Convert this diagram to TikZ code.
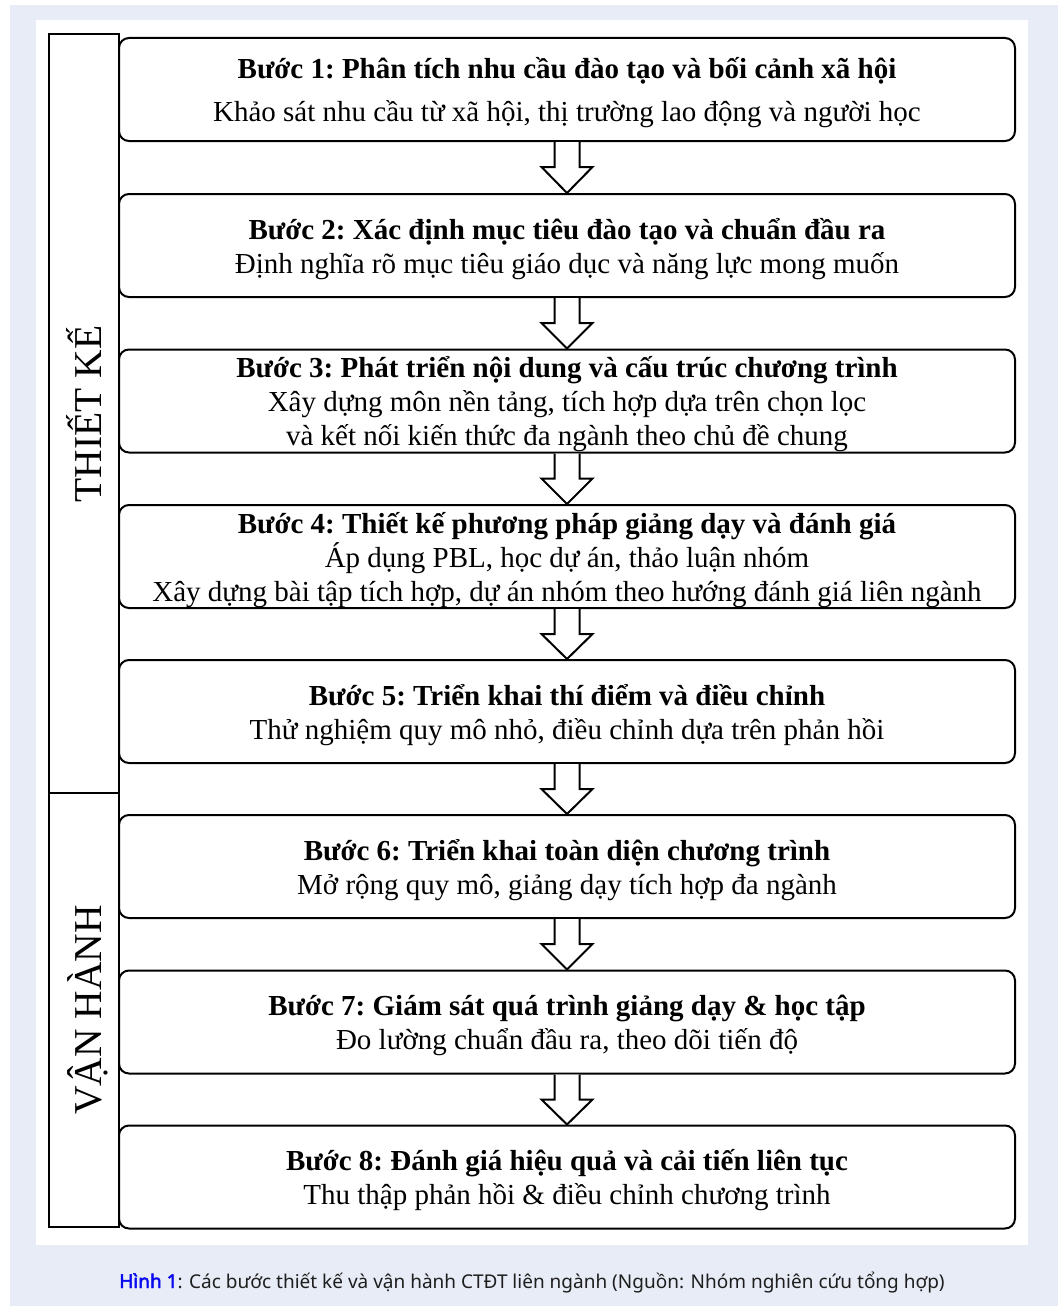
\documentclass[tikz,border=0pt]{standalone}
\usepackage{fontspec}
\setmainfont{Liberation Serif}
\newfontfamily\capfont{Noto Sans}
\newfontfamily\capboldfont[FakeBold=2.5]{Noto Sans}
\usetikzlibrary{calc}
\definecolor{pagebg}{HTML}{E7ECF6}
\definecolor{capblue}{HTML}{0A0AEE}
\definecolor{captext}{HTML}{1E1E1E}
\tikzset{
  stepbox/.style={draw, line width=2pt, rounded corners=10pt, fill=white,
    minimum width=896pt, minimum height=103pt, align=center, inner sep=0pt,
    font=\fontsize{29}{34}\selectfont\frenchspacing, text depth=0pt},
  phasebox/.style={draw, line width=2pt},
  phaselabel/.style={rotate=90, font=\fontsize{39.5}{44}\selectfont, inner sep=0pt, anchor=base},
  blockarrow/.style={draw, line width=2pt, fill=white, line join=miter},
}
\newcommand{\flowarrow}[2]{%
  \draw[blockarrow] ($(#1.south)+(-12.5,0)$) -- ($(#1.south)+(-12.5,25)$)
    -- ($(#1.south)+(-25.5,25)$) -- (#2.north) -- ($(#1.south)+(25.5,25)$)
    -- ($(#1.south)+(12.5,25)$) -- ($(#1.south)+(12.5,0)$);}
\begin{document}
\begin{tikzpicture}[x=1pt, y=-1pt]
\useasboundingbox (0,0) rectangle (1058,1306);
\fill[white] (0,0) rectangle (1058,1306);
\fill[pagebg] (10,5) rectangle (1058,1306);
\fill[white] (36,20) rectangle (1028,1245);
% phase column
\draw[phasebox] (49,34) rectangle (119,1227);
\coordinate (divL) at (49,793);
\coordinate (divR) at (119,793);
\draw[line width=2pt] (divL) -- (divR);
\node[phaselabel] (thietke) at (101,414) {THIẾT KẾ};
\node[phaselabel] (vanhanh) at (101,1010) {VẬN HÀNH};
% steps
\node[stepbox] (b1) at (567,89.5) {\textbf{Bước 1: Phân tích nhu cầu đào tạo và bối cảnh xã hội}\\[9pt]Khảo sát nhu cầu từ xã hội, thị trường lao động và người học};
\node[stepbox] (b2) at (567,245.5) {\textbf{Bước 2: Xác định mục tiêu đào tạo và chuẩn đầu ra}\\Định nghĩa rõ mục tiêu giáo dục và năng lực mong muốn};
\node[stepbox] (b3) at (567,401) {\textbf{Bước 3: Phát triển nội dung và cấu trúc chương trình}\\Xây dựng môn nền tảng, tích hợp dựa trên chọn lọc\\và kết nối kiến thức đa ngành theo chủ đề chung};
\node[stepbox] (b4) at (567,556.5) {\textbf{Bước 4: Thiết kế phương pháp giảng dạy và đánh giá}\\Áp dụng PBL, học dự án, thảo luận nhóm\\Xây dựng bài tập tích hợp, dự án nhóm theo hướng đánh giá liên ngành};
\node[stepbox] (b5) at (567,711.5) {\textbf{Bước 5: Triển khai thí điểm và điều chỉnh}\\Thử nghiệm quy mô nhỏ, điều chỉnh dựa trên phản hồi};
\node[stepbox] (b6) at (567,866.5) {\textbf{Bước 6: Triển khai toàn diện chương trình}\\Mở rộng quy mô, giảng dạy tích hợp đa ngành};
\node[stepbox] (b7) at (567,1022) {\textbf{Bước 7: Giám sát quá trình giảng dạy \& học tập}\\Đo lường chuẩn đầu ra, theo dõi tiến độ};
\node[stepbox] (b8) at (567,1177) {\textbf{Bước 8: Đánh giá hiệu quả và cải tiến liên tục}\\Thu thập phản hồi \& điều chỉnh chương trình};
\flowarrow{b1}{b2}
\flowarrow{b2}{b3}
\flowarrow{b3}{b4}
\flowarrow{b4}{b5}
\flowarrow{b5}{b6}
\flowarrow{b6}{b7}
\flowarrow{b7}{b8}
% caption
\node[font=\capfont\fontsize{19}{22}\selectfont, text=captext, inner sep=0pt] (caption) at (532,1282)
  {\textcolor{capblue}{\capboldfont Hình 1}: Các bước thiết kế và vận hành CTĐT liên ngành (Nguồn: Nhóm nghiên cứu tổng hợp)};
\end{tikzpicture}
\end{document}
